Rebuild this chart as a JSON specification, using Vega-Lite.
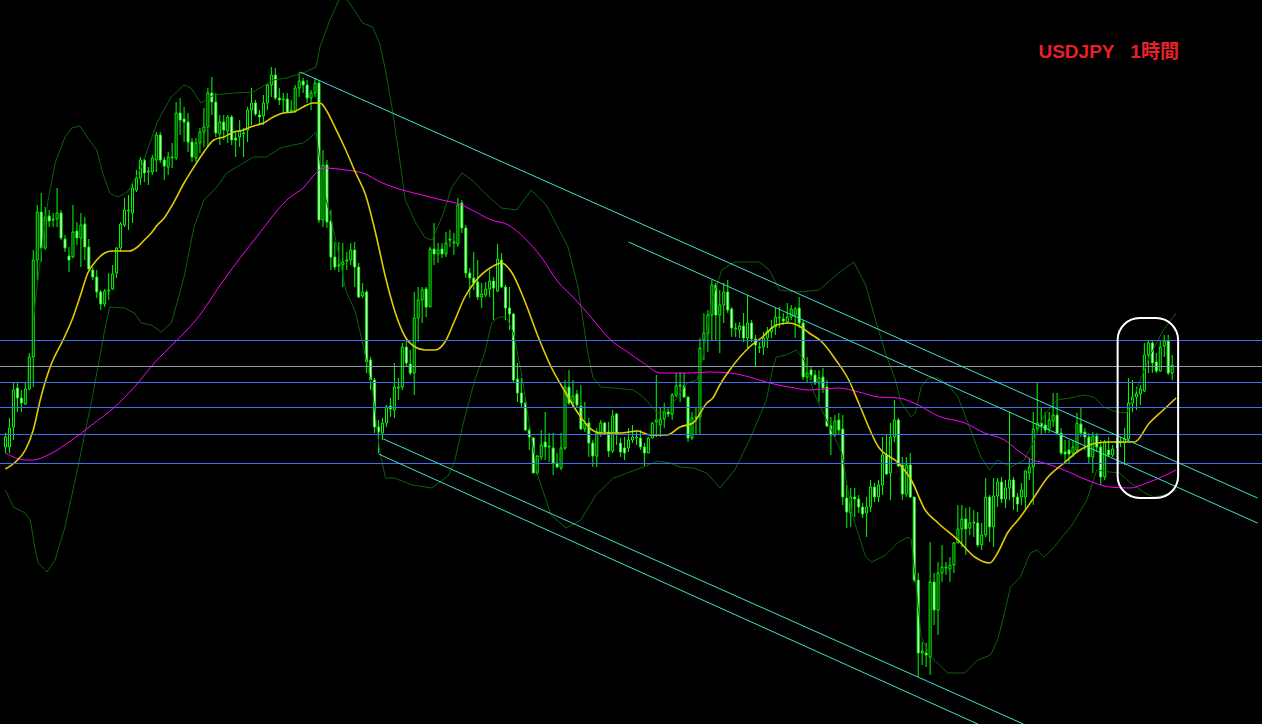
{
"$schema":"https://vega.github.io/schema/vega-lite/v6.json",
"width":1262,"height":724,
"autosize":{"type":"none"},
"padding":0,
"background":"#000000",
"config":{"view":{"stroke":null}},
"datasets":{
"candles":[
{"t":0,"o":553,"h":567,"l":547,"c":563},{"t":1,"o":553,"h":582,"l":547,"c":572},{"t":2,"o":573,"h":617,"l":560,"c":610},{"t":3,"o":612,"h":617,"l":588,"c":602},{"t":4,"o":602,"h":610,"l":588,"c":597},{"t":5,"o":596,"h":617,"l":595,"c":611},{"t":6,"o":611,"h":647,"l":610,"c":643},{"t":7,"o":643,"h":750,"l":613,"c":740},{"t":8,"o":740,"h":795,"l":720,"c":788},{"t":9,"o":788,"h":807,"l":738,"c":752},
{"t":10,"o":752,"h":793,"l":750,"c":783},{"t":11,"o":784,"h":790,"l":773,"c":779},{"t":12,"o":780,"h":787,"l":773,"c":781},{"t":13,"o":781,"h":812,"l":773,"c":787},{"t":14,"o":787,"h":790,"l":760,"c":762},{"t":15,"o":761,"h":765,"l":748,"c":752},{"t":16,"o":744,"h":753,"l":728,"c":740},{"t":17,"o":743,"h":795,"l":742,"c":768},{"t":18,"o":769,"h":778,"l":755,"c":762},{"t":19,"o":762,"h":787,"l":733,"c":775},
{"t":20,"o":776,"h":783,"l":740,"c":753},{"t":21,"o":753,"h":761,"l":730,"c":731},{"t":22,"o":730,"h":733,"l":720,"c":723},{"t":23,"o":723,"h":730,"l":702,"c":708},{"t":24,"o":708,"h":710,"l":690,"c":696},{"t":25,"o":696,"h":711,"l":693,"c":709},{"t":26,"o":709,"h":727,"l":700,"c":710},{"t":27,"o":711,"h":735,"l":710,"c":726},{"t":28,"o":727,"h":753,"l":722,"c":752},{"t":29,"o":752,"h":778,"l":748,"c":776},
{"t":30,"o":775,"h":802,"l":773,"c":790},{"t":31,"o":789,"h":805,"l":770,"c":790},{"t":32,"o":787,"h":817,"l":777,"c":812},{"t":33,"o":810,"h":830,"l":808,"c":822},{"t":34,"o":822,"h":843,"l":815,"c":840},{"t":35,"o":840,"h":842,"l":818,"c":827},{"t":36,"o":828,"h":833,"l":815,"c":829},{"t":37,"o":828,"h":845,"l":825,"c":842},{"t":38,"o":840,"h":868,"l":828,"c":865},{"t":39,"o":865,"h":868,"l":837,"c":840},
{"t":40,"o":840,"h":843,"l":820,"c":834},{"t":41,"o":833,"h":848,"l":825,"c":843},{"t":42,"o":842,"h":857,"l":832,"c":843},{"t":43,"o":842,"h":898,"l":840,"c":887},{"t":44,"o":887,"h":902,"l":865,"c":880},{"t":45,"o":881,"h":893,"l":858,"c":878},{"t":46,"o":878,"h":887,"l":848,"c":858},{"t":47,"o":858,"h":862,"l":838,"c":843},{"t":48,"o":842,"h":862,"l":838,"c":857},{"t":49,"o":857,"h":872,"l":847,"c":868},
{"t":50,"o":868,"h":892,"l":853,"c":873},{"t":51,"o":873,"h":912,"l":853,"c":907},{"t":52,"o":907,"h":923,"l":885,"c":898},{"t":53,"o":898,"h":907,"l":863,"c":867},{"t":54,"o":866,"h":885,"l":855,"c":878},{"t":55,"o":878,"h":885,"l":860,"c":870},{"t":56,"o":869,"h":885,"l":857,"c":883},{"t":57,"o":883,"h":885,"l":855,"c":860},{"t":58,"o":862,"h":868,"l":843,"c":860},{"t":59,"o":863,"h":880,"l":853,"c":869},
{"t":60,"o":866,"h":872,"l":843,"c":867},{"t":61,"o":870,"h":893,"l":858,"c":890},{"t":62,"o":890,"h":912,"l":875,"c":897},{"t":63,"o":897,"h":900,"l":884,"c":886},{"t":64,"o":885,"h":890,"l":875,"c":883},{"t":65,"o":884,"h":905,"l":875,"c":897},{"t":66,"o":897,"h":917,"l":890,"c":915},{"t":67,"o":915,"h":933,"l":903,"c":925},{"t":68,"o":925,"h":932,"l":900,"c":902},{"t":69,"o":902,"h":912,"l":895,"c":900},
{"t":70,"o":900,"h":907,"l":887,"c":901},{"t":71,"o":901,"h":907,"l":887,"c":888},{"t":72,"o":889,"h":900,"l":887,"c":890},{"t":73,"o":889,"h":915,"l":887,"c":912},{"t":74,"o":912,"h":928,"l":903,"c":919},{"t":75,"o":919,"h":922,"l":907,"c":915},{"t":76,"o":915,"h":920,"l":897,"c":902},{"t":77,"o":902,"h":910,"l":890,"c":907},{"t":78,"o":907,"h":922,"l":903,"c":917},{"t":79,"o":917,"h":920,"l":777,"c":780},
{"t":80,"o":780,"h":850,"l":773,"c":835},{"t":81,"o":835,"h":840,"l":772,"c":778},{"t":82,"o":779,"h":790,"l":730,"c":743},{"t":83,"o":743,"h":758,"l":730,"c":733},{"t":84,"o":734,"h":758,"l":728,"c":735},{"t":85,"o":735,"h":757,"l":713,"c":738},{"t":86,"o":739,"h":748,"l":730,"c":740},{"t":87,"o":740,"h":757,"l":735,"c":750},{"t":88,"o":750,"h":758,"l":713,"c":733},{"t":89,"o":733,"h":737,"l":702,"c":703},
{"t":90,"o":704,"h":717,"l":702,"c":708},{"t":91,"o":708,"h":710,"l":627,"c":638},{"t":92,"o":640,"h":643,"l":610,"c":620},{"t":93,"o":620,"h":622,"l":567,"c":573},{"t":94,"o":573,"h":580,"l":547,"c":568},{"t":95,"o":567,"h":582,"l":560,"c":577},{"t":96,"o":577,"h":595,"l":573,"c":593},{"t":97,"o":594,"h":602,"l":583,"c":591},{"t":98,"o":590,"h":637,"l":582,"c":613},{"t":99,"o":612,"h":622,"l":600,"c":613},
{"t":100,"o":613,"h":657,"l":610,"c":653},{"t":101,"o":653,"h":660,"l":633,"c":637},{"t":102,"o":636,"h":650,"l":625,"c":627},{"t":103,"o":627,"h":708,"l":605,"c":682},{"t":104,"o":682,"h":713,"l":658,"c":700},{"t":105,"o":700,"h":713,"l":677,"c":710},{"t":106,"o":711,"h":713,"l":683,"c":693},{"t":107,"o":693,"h":753,"l":693,"c":751},{"t":108,"o":751,"h":777,"l":735,"c":746},{"t":109,"o":746,"h":757,"l":737,"c":750},
{"t":110,"o":751,"h":757,"l":742,"c":746},{"t":111,"o":746,"h":768,"l":743,"c":757},{"t":112,"o":760,"h":770,"l":753,"c":761},{"t":113,"o":757,"h":767,"l":745,"c":758},{"t":114,"o":756,"h":802,"l":753,"c":795},{"t":115,"o":797,"h":800,"l":767,"c":772},{"t":116,"o":772,"h":775,"l":722,"c":727},{"t":117,"o":727,"h":732,"l":702,"c":722},{"t":118,"o":722,"h":748,"l":710,"c":717},{"t":119,"o":718,"h":740,"l":700,"c":703},
{"t":120,"o":703,"h":717,"l":692,"c":706},{"t":121,"o":705,"h":718,"l":703,"c":711},{"t":122,"o":711,"h":730,"l":703,"c":719},{"t":123,"o":719,"h":723,"l":680,"c":712},{"t":124,"o":709,"h":756,"l":708,"c":741},{"t":125,"o":740,"h":747,"l":712,"c":713},{"t":126,"o":713,"h":715,"l":680,"c":692},{"t":127,"o":692,"h":713,"l":670,"c":686},{"t":128,"o":686,"h":687,"l":618,"c":620},{"t":129,"o":621,"h":637,"l":598,"c":607},
{"t":130,"o":607,"h":622,"l":592,"c":597},{"t":131,"o":597,"h":602,"l":569,"c":570},{"t":132,"o":570,"h":573,"l":550,"c":563},{"t":133,"o":562,"h":563,"l":527,"c":527},{"t":134,"o":527,"h":545,"l":525,"c":544},{"t":135,"o":543,"h":570,"l":540,"c":555},{"t":136,"o":558,"h":588,"l":540,"c":553},{"t":137,"o":553,"h":567,"l":538,"c":554},{"t":138,"o":552,"h":567,"l":525,"c":537},{"t":139,"o":537,"h":547,"l":532,"c":533},
{"t":140,"o":532,"h":567,"l":530,"c":552},{"t":141,"o":552,"h":620,"l":550,"c":613},{"t":142,"o":613,"h":630,"l":595,"c":597},{"t":143,"o":597,"h":620,"l":593,"c":604},{"t":144,"o":606,"h":610,"l":593,"c":595},{"t":145,"o":594,"h":615,"l":570,"c":571},{"t":146,"o":571,"h":598,"l":568,"c":577},{"t":147,"o":577,"h":582,"l":543,"c":557},{"t":148,"o":557,"h":560,"l":533,"c":544},{"t":149,"o":544,"h":572,"l":533,"c":567},
{"t":150,"o":567,"h":580,"l":563,"c":577},{"t":151,"o":577,"h":578,"l":565,"c":568},{"t":152,"o":568,"h":578,"l":543,"c":549},{"t":153,"o":549,"h":590,"l":547,"c":584},{"t":154,"o":586,"h":587,"l":555,"c":567},{"t":155,"o":557,"h":562,"l":543,"c":548},{"t":156,"o":552,"h":563,"l":540,"c":547},{"t":157,"o":552,"h":572,"l":548,"c":560},{"t":158,"o":560,"h":575,"l":557,"c":563},{"t":159,"o":562,"h":570,"l":555,"c":563},
{"t":160,"o":562,"h":570,"l":550,"c":553},{"t":161,"o":553,"h":557,"l":533,"c":547},{"t":162,"o":547,"h":563,"l":547,"c":562},{"t":163,"o":562,"h":578,"l":562,"c":577},{"t":164,"o":578,"h":625,"l":563,"c":580},{"t":165,"o":575,"h":593,"l":563,"c":581},{"t":166,"o":581,"h":597,"l":572,"c":588},{"t":167,"o":588,"h":593,"l":583,"c":586},{"t":168,"o":586,"h":607,"l":580,"c":605},{"t":169,"o":605,"h":627,"l":603,"c":614},
{"t":170,"o":614,"h":628,"l":598,"c":615},{"t":171,"o":614,"h":627,"l":602,"c":603},{"t":172,"o":603,"h":603,"l":558,"c":562},{"t":173,"o":562,"h":588,"l":560,"c":582},{"t":174,"o":582,"h":592,"l":565,"c":583},{"t":175,"o":583,"h":662,"l":565,"c":652},{"t":176,"o":660,"h":687,"l":640,"c":667},{"t":177,"o":667,"h":690,"l":648,"c":685},{"t":178,"o":685,"h":720,"l":660,"c":715},{"t":179,"o":715,"h":717,"l":660,"c":685},
{"t":180,"o":685,"h":710,"l":647,"c":695},{"t":181,"o":695,"h":717,"l":677,"c":708},{"t":182,"o":708,"h":720,"l":687,"c":690},{"t":183,"o":691,"h":693,"l":663,"c":672},{"t":184,"o":671,"h":677,"l":663,"c":672},{"t":185,"o":670,"h":678,"l":662,"c":674},{"t":186,"o":674,"h":687,"l":658,"c":662},{"t":187,"o":662,"h":705,"l":652,"c":677},{"t":188,"o":677,"h":680,"l":658,"c":661},{"t":189,"o":661,"h":665,"l":633,"c":655},
{"t":190,"o":652,"h":658,"l":647,"c":653},{"t":191,"o":653,"h":668,"l":645,"c":662},{"t":192,"o":662,"h":673,"l":652,"c":669},{"t":193,"o":668,"h":680,"l":662,"c":672},{"t":194,"o":673,"h":692,"l":665,"c":683},{"t":195,"o":682,"h":693,"l":672,"c":683},{"t":196,"o":681,"h":687,"l":675,"c":679},{"t":197,"o":678,"h":697,"l":677,"c":683},{"t":198,"o":683,"h":695,"l":680,"c":691},{"t":199,"o":685,"h":693,"l":662,"c":691},
{"t":200,"o":692,"h":703,"l":672,"c":677},{"t":201,"o":677,"h":680,"l":620,"c":623},{"t":202,"o":623,"h":643,"l":617,"c":627},{"t":203,"o":630,"h":633,"l":620,"c":625},{"t":204,"o":625,"h":630,"l":615,"c":617},{"t":205,"o":617,"h":630,"l":598,"c":622},{"t":206,"o":623,"h":632,"l":607,"c":612},{"t":207,"o":613,"h":620,"l":573,"c":574},{"t":208,"o":574,"h":583,"l":545,"c":565},{"t":209,"o":565,"h":585,"l":563,"c":579},
{"t":210,"o":580,"h":587,"l":565,"c":570},{"t":211,"o":571,"h":585,"l":495,"c":503},{"t":212,"o":502,"h":515,"l":472,"c":488},{"t":213,"o":487,"h":512,"l":473,"c":503},{"t":214,"o":503,"h":512,"l":483,"c":501},{"t":215,"o":501,"h":505,"l":487,"c":493},{"t":216,"o":493,"h":497,"l":482,"c":486},{"t":217,"o":487,"h":503,"l":463,"c":493},{"t":218,"o":493,"h":520,"l":488,"c":513},{"t":219,"o":513,"h":517,"l":498,"c":503},
{"t":220,"o":503,"h":520,"l":498,"c":515},{"t":221,"o":515,"h":563,"l":505,"c":545},{"t":222,"o":545,"h":565,"l":525,"c":526},{"t":223,"o":527,"h":577,"l":500,"c":563},{"t":224,"o":563,"h":600,"l":558,"c":580},{"t":225,"o":580,"h":582,"l":533,"c":534},{"t":226,"o":535,"h":543,"l":500,"c":506},{"t":227,"o":506,"h":543,"l":503,"c":535},{"t":228,"o":535,"h":547,"l":502,"c":503},{"t":229,"o":503,"h":503,"l":418,"c":420},
{"t":230,"o":420,"h":427,"l":323,"c":347},{"t":231,"o":347,"h":358,"l":335,"c":349},{"t":232,"o":347,"h":357,"l":333,"c":345},{"t":233,"o":343,"h":458,"l":325,"c":418},{"t":234,"o":418,"h":427,"l":375,"c":390},{"t":235,"o":390,"h":438,"l":365,"c":427},{"t":236,"o":427,"h":455,"l":418,"c":433},{"t":237,"o":432,"h":438,"l":425,"c":433},{"t":238,"o":431,"h":443,"l":418,"c":435},{"t":239,"o":435,"h":458,"l":427,"c":457},
{"t":240,"o":457,"h":495,"l":457,"c":471},{"t":241,"o":471,"h":495,"l":453,"c":481},{"t":242,"o":481,"h":492,"l":445,"c":471},{"t":243,"o":472,"h":493,"l":465,"c":477},{"t":244,"o":477,"h":490,"l":463,"c":478},{"t":245,"o":477,"h":488,"l":453,"c":455},{"t":246,"o":455,"h":477,"l":450,"c":465},{"t":247,"o":465,"h":522,"l":463,"c":503},{"t":248,"o":503,"h":505,"l":458,"c":473},{"t":249,"o":473,"h":522,"l":453,"c":504},
{"t":250,"o":504,"h":522,"l":493,"c":518},{"t":251,"o":518,"h":523,"l":497,"c":501},{"t":252,"o":501,"h":520,"l":492,"c":512},{"t":253,"o":512,"h":588,"l":500,"c":520},{"t":254,"o":520,"h":523,"l":490,"c":503},{"t":255,"o":503,"h":507,"l":488,"c":496},{"t":256,"o":503,"h":517,"l":495,"c":510},{"t":257,"o":503,"h":530,"l":490,"c":529},{"t":258,"o":527,"h":542,"l":520,"c":533},{"t":259,"o":533,"h":588,"l":495,"c":571},
{"t":260,"o":571,"h":618,"l":567,"c":577},{"t":261,"o":577,"h":592,"l":565,"c":574},{"t":262,"o":575,"h":588,"l":567,"c":570},{"t":263,"o":571,"h":588,"l":567,"c":580},{"t":264,"o":579,"h":607,"l":573,"c":585},{"t":265,"o":585,"h":607,"l":565,"c":567},{"t":266,"o":567,"h":572,"l":545,"c":547},{"t":267,"o":548,"h":560,"l":538,"c":546},{"t":268,"o":550,"h":560,"l":537,"c":546},{"t":269,"o":547,"h":560,"l":543,"c":553},
{"t":270,"o":550,"h":587,"l":547,"c":577},{"t":271,"o":576,"h":593,"l":563,"c":567},{"t":272,"o":568,"h":572,"l":550,"c":563},{"t":273,"o":563,"h":567,"l":537,"c":543},{"t":274,"o":543,"h":568,"l":527,"c":564},{"t":275,"o":564,"h":567,"l":548,"c":553},{"t":276,"o":553,"h":560,"l":515,"c":523},{"t":277,"o":523,"h":560,"l":520,"c":558},{"t":278,"o":550,"h":563,"l":543,"c":545},{"t":279,"o":545,"h":555,"l":543,"c":551},
{"t":280,"o":557,"h":562,"l":552,"c":558},{"t":281,"o":557,"h":563,"l":553,"c":559},{"t":282,"o":557,"h":572,"l":535,"c":561},{"t":283,"o":561,"h":622,"l":560,"c":597},{"t":284,"o":597,"h":620,"l":588,"c":603},{"t":285,"o":603,"h":613,"l":590,"c":606},{"t":286,"o":606,"h":615,"l":595,"c":611},{"t":287,"o":609,"h":657,"l":608,"c":645},{"t":288,"o":645,"h":660,"l":627,"c":657},{"t":289,"o":657,"h":660,"l":627,"c":637},
{"t":290,"o":638,"h":647,"l":627,"c":629},{"t":291,"o":629,"h":660,"l":628,"c":653},{"t":292,"o":654,"h":665,"l":643,"c":659},{"t":293,"o":659,"h":665,"l":625,"c":627},{"t":294,"o":627,"h":645,"l":620,"c":635}
],
"ma21":[
{"t":0,"v":531},{"t":2.5,"v":538},{"t":5,"v":550},{"t":7,"v":570},{"t":8.75,"v":600},{"t":11.25,"v":633},{"t":14.5,"v":660},{"t":16.75,"v":680},{"t":18.75,"v":703},{"t":20.75,"v":727},{"t":23,"v":740},{"t":25,"v":747},{"t":26.75,"v":749},{"t":31.25,"v":749},{"t":33.25,"v":753},{"t":35,"v":760},{"t":36.75,"v":767},{"t":38.25,"v":775},{"t":40,"v":782},{"t":41.75,"v":793},{"t":45,"v":817},{"t":47.5,"v":833},{"t":50,"v":848},{"t":52.5,"v":860},{"t":55,"v":863},{"t":57.5,"v":868},{"t":60,"v":870},{"t":61.75,"v":873},{"t":65,"v":877},{"t":67.5,"v":883},{"t":70,"v":887},{"t":72.5,"v":888},{"t":75,"v":893},{"t":77.5,"v":897},{"t":79.25,"v":897},{"t":81.25,"v":887},{"t":82.5,"v":877},{"t":85.75,"v":850},{"t":88.25,"v":827},{"t":90.75,"v":805},{"t":93.25,"v":767},{"t":95.75,"v":723},{"t":98.25,"v":687},{"t":100.75,"v":663},{"t":103.25,"v":653},{"t":105.75,"v":650},{"t":108.25,"v":650},{"t":110.75,"v":658},{"t":113.25,"v":680},{"t":115.75,"v":703},{"t":118.25,"v":718},{"t":122.5,"v":733},{"t":125,"v":737},{"t":127.5,"v":728},{"t":130.75,"v":700},{"t":134.25,"v":663},{"t":137.5,"v":633},{"t":140.75,"v":610},{"t":144.25,"v":587},{"t":147.5,"v":571},{"t":150,"v":567},{"t":155,"v":567},{"t":159.25,"v":569},{"t":162.5,"v":565},{"t":166.75,"v":565},{"t":170,"v":573},{"t":173.25,"v":577},{"t":176.75,"v":597},{"t":178.25,"v":602},{"t":180,"v":615},{"t":182.5,"v":630},{"t":187.5,"v":653},{"t":190.75,"v":663},{"t":194.25,"v":675},{"t":197.5,"v":677},{"t":200,"v":674},{"t":202.5,"v":667},{"t":205.75,"v":658},{"t":209.25,"v":640},{"t":212.5,"v":620},{"t":215,"v":597},{"t":220,"v":553},{"t":225,"v":537},{"t":228.25,"v":520},{"t":231.75,"v":490},{"t":235,"v":477},{"t":240,"v":460},{"t":244.25,"v":443},{"t":248,"v":437},{"t":250,"v":447},{"t":252.5,"v":467},{"t":255.75,"v":483},{"t":258.75,"v":500},{"t":262.5,"v":522},{"t":266.75,"v":537},{"t":270.75,"v":550},{"t":275,"v":557},{"t":278.25,"v":558},{"t":281.75,"v":558},{"t":284.5,"v":558},{"t":288.25,"v":577},{"t":291.75,"v":590},{"t":295,"v":602}
],
"ma75":[
{"t":0,"v":547},{"t":5,"v":540},{"t":7,"v":540},{"t":10.75,"v":545},{"t":16.75,"v":560},{"t":21.75,"v":575},{"t":27.5,"v":593},{"t":32.5,"v":613},{"t":37.5,"v":637},{"t":42.5,"v":657},{"t":48,"v":680},{"t":55,"v":720},{"t":63.25,"v":763},{"t":71.75,"v":803},{"t":75,"v":812},{"t":78.25,"v":827},{"t":80,"v":832},{"t":85.75,"v":830},{"t":90,"v":827},{"t":95,"v":817},{"t":100,"v":810},{"t":105,"v":805},{"t":110,"v":800},{"t":115,"v":795},{"t":117.5,"v":790},{"t":122.5,"v":780},{"t":126.75,"v":775},{"t":130.75,"v":762},{"t":135,"v":743},{"t":139.25,"v":718},{"t":143.25,"v":702},{"t":147.5,"v":683},{"t":152.5,"v":660},{"t":156.75,"v":648},{"t":160.75,"v":637},{"t":165,"v":627},{"t":172.5,"v":627},{"t":177.5,"v":628},{"t":182.5,"v":627},{"t":187.5,"v":623},{"t":192.5,"v":617},{"t":197.5,"v":613},{"t":202.5,"v":610},{"t":210,"v":612},{"t":215,"v":608},{"t":220,"v":603},{"t":225,"v":602},{"t":230,"v":595},{"t":235,"v":584},{"t":241.75,"v":577},{"t":246.75,"v":567},{"t":251.75,"v":560},{"t":255,"v":550},{"t":258.25,"v":541},{"t":261.75,"v":537},{"t":266.75,"v":530},{"t":272.5,"v":520},{"t":278.25,"v":513},{"t":283.25,"v":512},{"t":288.25,"v":518},{"t":295,"v":530}
],
"bands":[
{"s":"up","t":7,"v":680},{"s":"up","t":8.75,"v":740},{"s":"up","t":10.75,"v":800},{"s":"up","t":12.5,"v":837},{"s":"up","t":15,"v":863},{"s":"up","t":16.75,"v":872},{"s":"up","t":18.75,"v":874},{"s":"up","t":20.75,"v":862},{"s":"up","t":23,"v":850},{"s":"up","t":24.5,"v":827},{"s":"up","t":26.25,"v":807},{"s":"up","t":28.25,"v":803},{"s":"up","t":30.75,"v":808},{"s":"up","t":34.25,"v":833},{"s":"up","t":38.25,"v":878},{"s":"up","t":41.75,"v":903},{"s":"up","t":45,"v":915},{"s":"up","t":46.75,"v":912},{"s":"up","t":49.25,"v":897},{"s":"up","t":52.5,"v":905},{"s":"up","t":57.5,"v":907},{"s":"up","t":62.5,"v":908},{"s":"up","t":67.5,"v":920},{"s":"up","t":70.75,"v":922},{"s":"up","t":75,"v":927},{"s":"up","t":78.25,"v":933},{"s":"up","t":79.25,"v":953},{"s":"up","t":81.75,"v":980},{"s":"up","t":84.25,"v":1002},{"s":"up","t":85.75,"v":1002},{"s":"up","t":87.5,"v":992},{"s":"up","t":90,"v":977},{"s":"up","t":92.5,"v":973},{"s":"up","t":94.25,"v":957},{"s":"up","t":95.75,"v":930},{"s":"up","t":97.5,"v":890},{"s":"up","t":99.25,"v":843},{"s":"up","t":100.75,"v":800},{"s":"up","t":103.25,"v":778},{"s":"up","t":105.75,"v":762},{"s":"up","t":107.5,"v":760},{"s":"up","t":110,"v":783},{"s":"up","t":112.5,"v":813},{"s":"up","t":115,"v":827},{"s":"up","t":117.5,"v":820},{"s":"up","t":121.25,"v":805},{"s":"up","t":125,"v":792},{"s":"up","t":128.75,"v":790},{"s":"up","t":132.5,"v":810},{"s":"up","t":136.25,"v":795},{"s":"up","t":138.25,"v":780},{"s":"up","t":141.75,"v":753},{"s":"up","t":144.25,"v":713},{"s":"up","t":146.75,"v":647},{"s":"up","t":148,"v":623},{"s":"up","t":150,"v":613},{"s":"up","t":153.25,"v":612},{"s":"up","t":158.25,"v":610},{"s":"up","t":160.75,"v":603},{"s":"up","t":164.25,"v":587},{"s":"up","t":166.75,"v":590},{"s":"up","t":168.25,"v":597},{"s":"up","t":171.75,"v":617},{"s":"up","t":174.25,"v":620},{"s":"up","t":175.75,"v":643},{"s":"up","t":178,"v":700},{"s":"up","t":180.5,"v":730},{"s":"up","t":183.75,"v":738},{"s":"up","t":190,"v":738},{"s":"up","t":192.5,"v":730},{"s":"up","t":195,"v":710},{"s":"up","t":200,"v":708},{"s":"up","t":205,"v":710},{"s":"up","t":210,"v":727},{"s":"up","t":213.75,"v":738},{"s":"up","t":216.75,"v":715},{"s":"up","t":219.25,"v":680},{"s":"up","t":221.75,"v":647},{"s":"up","t":224.25,"v":620},{"s":"up","t":225.75,"v":597},{"s":"up","t":228.25,"v":583},{"s":"up","t":229.25,"v":587},{"s":"up","t":230.75,"v":613},{"s":"up","t":232.5,"v":622},{"s":"up","t":235,"v":622},{"s":"up","t":237.5,"v":615},{"s":"up","t":240,"v":603},{"s":"up","t":243.25,"v":570},{"s":"up","t":245.75,"v":543},{"s":"up","t":248,"v":530},{"s":"up","t":250,"v":540},{"s":"up","t":253.25,"v":533},{"s":"up","t":256.75,"v":540},{"s":"up","t":259.25,"v":560},{"s":"up","t":261.75,"v":585},{"s":"up","t":265,"v":600},{"s":"up","t":268.25,"v":602},{"s":"up","t":271.75,"v":605},{"s":"up","t":274.25,"v":603},{"s":"up","t":276.75,"v":593},{"s":"up","t":280,"v":588},{"s":"up","t":282.5,"v":587},{"s":"up","t":285,"v":610},{"s":"up","t":288.25,"v":643},{"s":"up","t":291.75,"v":670},{"s":"up","t":295,"v":687},
{"s":"lo","t":0,"v":510},{"s":"lo","t":2,"v":493},{"s":"lo","t":5,"v":487},{"s":"lo","t":6.25,"v":480},{"s":"lo","t":7.5,"v":450},{"s":"lo","t":8.25,"v":437},{"s":"lo","t":10.5,"v":428},{"s":"lo","t":12.5,"v":440},{"s":"lo","t":15,"v":473},{"s":"lo","t":18.25,"v":533},{"s":"lo","t":21.75,"v":600},{"s":"lo","t":25,"v":670},{"s":"lo","t":26.25,"v":693},{"s":"lo","t":30,"v":692},{"s":"lo","t":32.5,"v":687},{"s":"lo","t":34.25,"v":677},{"s":"lo","t":36.75,"v":675},{"s":"lo","t":39.25,"v":668},{"s":"lo","t":41.75,"v":677},{"s":"lo","t":42.5,"v":687},{"s":"lo","t":45,"v":723},{"s":"lo","t":47.5,"v":773},{"s":"lo","t":50,"v":800},{"s":"lo","t":53.25,"v":813},{"s":"lo","t":55.75,"v":827},{"s":"lo","t":60,"v":837},{"s":"lo","t":62.5,"v":843},{"s":"lo","t":65.75,"v":843},{"s":"lo","t":69.25,"v":852},{"s":"lo","t":72.5,"v":855},{"s":"lo","t":75,"v":857},{"s":"lo","t":76.75,"v":862},{"s":"lo","t":78.25,"v":868},{"s":"lo","t":79.5,"v":830},{"s":"lo","t":80.5,"v":805},{"s":"lo","t":82.5,"v":773},{"s":"lo","t":84.25,"v":740},{"s":"lo","t":85.75,"v":710},{"s":"lo","t":88.25,"v":687},{"s":"lo","t":90,"v":657},{"s":"lo","t":92.5,"v":610},{"s":"lo","t":94.25,"v":550},{"s":"lo","t":95.75,"v":522},{"s":"lo","t":98,"v":522},{"s":"lo","t":102.5,"v":515},{"s":"lo","t":107.5,"v":512},{"s":"lo","t":111.75,"v":525},{"s":"lo","t":113.25,"v":540},{"s":"lo","t":115.75,"v":583},{"s":"lo","t":118.25,"v":620},{"s":"lo","t":120.75,"v":647},{"s":"lo","t":122.5,"v":677},{"s":"lo","t":124.25,"v":683},{"s":"lo","t":126.25,"v":683},{"s":"lo","t":128,"v":667},{"s":"lo","t":130,"v":627},{"s":"lo","t":132.5,"v":563},{"s":"lo","t":134.25,"v":523},{"s":"lo","t":137.5,"v":485},{"s":"lo","t":141.25,"v":472},{"s":"lo","t":145,"v":480},{"s":"lo","t":148.75,"v":505},{"s":"lo","t":153.25,"v":522},{"s":"lo","t":156.75,"v":527},{"s":"lo","t":160.75,"v":533},{"s":"lo","t":164.25,"v":539},{"s":"lo","t":167.5,"v":537},{"s":"lo","t":170,"v":533},{"s":"lo","t":173.25,"v":532},{"s":"lo","t":176.75,"v":527},{"s":"lo","t":180,"v":512},{"s":"lo","t":183.75,"v":530},{"s":"lo","t":187.5,"v":560},{"s":"lo","t":191.75,"v":600},{"s":"lo","t":193.25,"v":630},{"s":"lo","t":194.25,"v":643},{"s":"lo","t":196.75,"v":645},{"s":"lo","t":199.25,"v":650},{"s":"lo","t":201.25,"v":640},{"s":"lo","t":203.75,"v":607},{"s":"lo","t":207.5,"v":575},{"s":"lo","t":210.75,"v":547},{"s":"lo","t":213.25,"v":487},{"s":"lo","t":216.75,"v":443},{"s":"lo","t":218.25,"v":438},{"s":"lo","t":221.75,"v":445},{"s":"lo","t":225,"v":458},{"s":"lo","t":227.5,"v":463},{"s":"lo","t":228.25,"v":460},{"s":"lo","t":229.5,"v":413},{"s":"lo","t":230.75,"v":363},{"s":"lo","t":233.25,"v":343},{"s":"lo","t":237.5,"v":327},{"s":"lo","t":241.75,"v":327},{"s":"lo","t":245,"v":340},{"s":"lo","t":248.25,"v":345},{"s":"lo","t":250,"v":360},{"s":"lo","t":251.75,"v":387},{"s":"lo","t":253.25,"v":413},{"s":"lo","t":255.75,"v":423},{"s":"lo","t":258.25,"v":447},{"s":"lo","t":260,"v":450},{"s":"lo","t":261.75,"v":443},{"s":"lo","t":264.25,"v":453},{"s":"lo","t":268.75,"v":475},{"s":"lo","t":272.5,"v":500},{"s":"lo","t":275,"v":530},{"s":"lo","t":278.25,"v":528},{"s":"lo","t":280.75,"v":527},{"s":"lo","t":283.25,"v":518},{"s":"lo","t":286.75,"v":508},{"s":"lo","t":289.25,"v":503},{"s":"lo","t":292.5,"v":505},{"s":"lo","t":295,"v":510}
],
"hlines":[{"v":659.5,"k":"a"},{"v":633.5,"k":"b"},{"v":617.5,"k":"a"},{"v":592.5,"k":"a"},{"v":565.5,"k":"a"},{"v":536.5,"k":"a"}],
"tlines":[{"t":74.25,"v":928,"t2":315.5,"v2":502},{"t":157,"v":758,"t2":315.5,"v2":477},{"t":95.25,"v":561,"t2":256.5,"v2":276},{"t":94,"v":546,"t2":245,"v2":276}],
"box":[{"t":280.25,"t2":295.5,"v":682,"v2":502}],
"label":[{"t":260.3,"v":942,"text":"USDJPY\u00a0\u00a0\u00a01時間"}]
},
"layer":[
{"data":{"name":"candles"},"mark":{"type":"rule","color":"#00ff00","strokeWidth":1},
 "encoding":{"x":{"field":"t","type":"quantitative","scale":{"domain":[-0.125,315.375],"nice":false,"zero":false},"axis":null},
 "y":{"field":"l","type":"quantitative","scale":{"domain":[276,1000],"nice":false,"zero":false},"axis":null},"y2":{"field":"h"}}},
{"data":{"name":"candles"},"mark":{"type":"bar","size":2,"stroke":"#00ff00","strokeWidth":1},
 "encoding":{"x":{"field":"t","type":"quantitative","scale":{"domain":[-0.125,315.375],"nice":false,"zero":false},"axis":null},
 "y":{"field":"o","type":"quantitative","scale":{"domain":[276,1000],"nice":false,"zero":false},"axis":null},"y2":{"field":"c"},
 "fill":{"condition":{"test":"datum.c < datum.o","value":"#ffffff"},"value":"#000000"}}},
{"data":{"name":"bands"},"mark":{"type":"line","color":"#0a640a","strokeWidth":1,"clip":true},
 "encoding":{"x":{"field":"t","type":"quantitative","scale":{"domain":[-0.125,315.375],"nice":false,"zero":false},"axis":null},
 "y":{"field":"v","type":"quantitative","scale":{"domain":[276,1000],"nice":false,"zero":false},"axis":null},"detail":{"field":"s","type":"nominal"}}},
{"data":{"name":"ma75"},"mark":{"type":"line","color":"#ff00ff","strokeWidth":1,"interpolate":"monotone","clip":true},
 "encoding":{"x":{"field":"t","type":"quantitative","scale":{"domain":[-0.125,315.375],"nice":false,"zero":false},"axis":null},
 "y":{"field":"v","type":"quantitative","scale":{"domain":[276,1000],"nice":false,"zero":false},"axis":null}}},
{"data":{"name":"ma21"},"mark":{"type":"line","color":"#e2cc00","strokeWidth":1.6,"interpolate":"monotone","clip":true},
 "encoding":{"x":{"field":"t","type":"quantitative","scale":{"domain":[-0.125,315.375],"nice":false,"zero":false},"axis":null},
 "y":{"field":"v","type":"quantitative","scale":{"domain":[276,1000],"nice":false,"zero":false},"axis":null}}},
{"data":{"name":"hlines"},"mark":{"type":"rule","strokeWidth":1},
 "encoding":{"y":{"field":"v","type":"quantitative","scale":{"domain":[276,1000],"nice":false,"zero":false},"axis":null},
 "color":{"field":"k","type":"nominal","scale":{"domain":["a","b"],"range":["#3f6ff0","#8c9aa6"]},"legend":null}}},
{"data":{"name":"tlines"},"mark":{"type":"rule","color":"#40e0d0","strokeWidth":1,"clip":true},
 "encoding":{"x":{"field":"t","type":"quantitative","scale":{"domain":[-0.125,315.375],"nice":false,"zero":false},"axis":null},"x2":{"field":"t2"},
 "y":{"field":"v","type":"quantitative","scale":{"domain":[276,1000],"nice":false,"zero":false},"axis":null},"y2":{"field":"v2"}}},
{"data":{"name":"box"},"mark":{"type":"rect","filled":false,"stroke":"#ffffff","strokeWidth":2,"cornerRadius":22},
 "encoding":{"x":{"field":"t","type":"quantitative","scale":{"domain":[-0.125,315.375],"nice":false,"zero":false},"axis":null},"x2":{"field":"t2"},
 "y":{"field":"v","type":"quantitative","scale":{"domain":[276,1000],"nice":false,"zero":false},"axis":null},"y2":{"field":"v2"}}},
{"data":{"name":"label"},"mark":{"type":"text","align":"left","baseline":"alphabetic","font":"Liberation Sans, Noto Sans CJK JP","fontWeight":"bold","fontSize":19,"color":"#e8202a"},
 "encoding":{"x":{"field":"t","type":"quantitative","scale":{"domain":[-0.125,315.375],"nice":false,"zero":false},"axis":null},
 "y":{"field":"v","type":"quantitative","scale":{"domain":[276,1000],"nice":false,"zero":false},"axis":null},"text":{"field":"text"}}}
]
}
